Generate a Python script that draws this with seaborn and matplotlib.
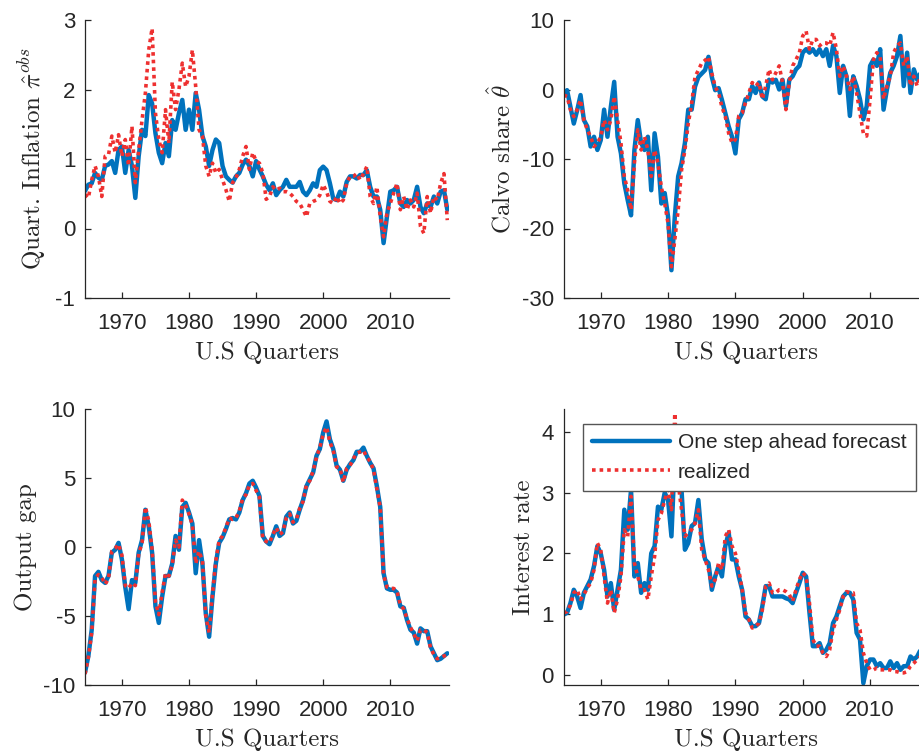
import numpy as np
import pandas as pd
import matplotlib
matplotlib.use("Agg")
import matplotlib.pyplot as plt
import seaborn as sns

# ---------------- data (semi-annual readings, 1964.5 ... 2018.5) ----------------
quarters = np.arange(1964.5, 2018.51, 0.5)

infl_forecast = [
    0.54, 0.63, 0.65, 0.80, 0.73, 0.70, 0.90, 0.92, 0.97, 0.80,
    1.13, 1.18, 0.80, 1.13, 0.90, 0.44, 1.04, 1.42, 1.33, 1.92,
    1.80, 1.37, 1.09, 0.94, 1.23, 1.04, 1.56, 1.42, 1.66, 1.85,
    1.42, 1.71, 1.42, 1.95, 1.71, 1.33, 1.18, 0.90, 1.13, 1.28,
    1.23, 0.90, 0.75, 0.70, 0.66, 0.75, 0.80, 0.92, 0.99, 0.90,
    0.75, 0.97, 0.85, 0.75, 0.63, 0.55, 0.65, 0.48, 0.55, 0.60,
    0.70, 0.60, 0.60, 0.60, 0.67, 0.53, 0.48, 0.55, 0.65, 0.60,
    0.84, 0.89, 0.84, 0.65, 0.43, 0.41, 0.53, 0.46, 0.67, 0.75,
    0.75, 0.72, 0.77, 0.77, 0.84, 0.60, 0.46, 0.46, 0.27, -0.21,
    0.17, 0.53, 0.55, 0.60, 0.36, 0.31, 0.41, 0.36, 0.41, 0.60,
    0.31, 0.22, 0.36, 0.31, 0.46, 0.36, 0.53, 0.55, 0.27]
infl_realized = [
    0.49, 0.44, 0.70, 0.90, 0.75, 0.46, 1.04, 1.06, 1.33, 1.09,
    1.35, 1.04, 1.28, 0.90, 1.47, 0.66, 1.13, 1.56, 1.95, 2.57,
    2.88, 1.66, 1.28, 1.09, 1.71, 1.23, 2.11, 1.71, 2.00, 2.38,
    2.04, 2.19, 2.57, 2.04, 1.42, 1.33, 0.90, 0.75, 0.94, 0.80,
    0.85, 0.70, 0.56, 0.39, 0.66, 0.73, 0.85, 1.04, 1.18, 0.85,
    1.09, 0.97, 0.94, 0.80, 0.42, 0.46, 0.60, 0.55, 0.58, 0.53,
    0.53, 0.51, 0.46, 0.39, 0.36, 0.27, 0.17, 0.36, 0.39, 0.41,
    0.48, 0.63, 0.53, 0.39, 0.36, 0.46, 0.36, 0.41, 0.65, 0.75,
    0.75, 0.79, 0.70, 0.79, 0.89, 0.46, 0.36, 0.60, 0.17, -0.12,
    0.22, 0.36, 0.51, 0.65, 0.27, 0.46, 0.27, 0.41, 0.31, 0.51,
    0.03, -0.07, 0.46, 0.22, 0.46, 0.41, 0.65, 0.79, 0.12]

calvo_forecast = [
    -0.55, -0.1, -2.5, -4.9, -3.0, -0.8, -4.4, -5.3, -8.2, -6.8,
    -8.7, -7.3, -2.9, -6.8, -2.5, 1.1, -6.8, -9.2, -13.5, -15.9,
    -18.1, -8.7, -4.4, -7.7, -8.7, -6.8, -14.5, -6.3, -9.7, -16.4,
    -14.9, -18.3, -26.0, -18.3, -12.5, -10.6, -7.7, -2.9, -2.9, 0.4,
    1.8, 2.3, 2.8, 4.7, 1.8, -0.1, 0.2, -1.5, -3.4, -5.3,
    -6.8, -9.2, -4.3, -3.4, -1.4, -1.4, 0.5, -0.5, 1.0, -1.0,
    -1.4, 1.4, 1.0, 1.4, 0.0, 1.4, -2.4, 1.4, 1.9, 2.9,
    3.4, 5.3, 5.8, 5.3, 5.8, 5.0, 5.8, 4.8, 5.8, 3.4,
    6.3, 4.8, -0.5, 3.4, 1.9, -3.8, 1.9, 0.5, -1.4, -4.3,
    -2.4, 3.4, 4.3, 3.4, 5.8, -2.9, 0.0, 2.4, 3.4, 4.8,
    7.7, 0.5, 5.3, -0.5, 2.9, 1.4, 2.4, 1.9, 1.0]
calvo_realized = [
    -0.8, -1.0, -2.9, -3.9, -2.9, -1.5, -4.4, -5.8, -6.8, -8.2,
    -7.7, -6.8, -4.4, -5.8, -4.4, -1.0, -4.4, -7.7, -12.5, -14.5,
    -17.3, -10.6, -5.8, -8.7, -6.8, -8.7, -12.5, -8.7, -10.6, -14.0,
    -16.4, -19.3, -25.5, -21.6, -17.3, -11.6, -8.7, -4.9, -2.0, 1.8,
    2.8, 3.8, 4.2, 4.7, 2.3, 0.4, -0.5, -2.5, -3.9, -6.3,
    -7.7, -7.2, -3.8, -3.4, -1.9, -0.5, 1.0, 0.5, 1.0, -1.4,
    0.5, 2.9, 1.4, 2.4, 3.4, 1.0, -2.9, 1.0, 3.4, 4.3,
    5.3, 7.7, 8.4, 5.8, 7.2, 7.2, 6.3, 6.7, 6.7, 6.3,
    8.2, 5.8, 1.9, 3.4, 1.9, 0.0, 1.9, -0.5, -3.4, -6.3,
    -6.7, -1.4, 4.3, 5.3, 4.8, -1.4, 0.5, 1.9, 5.3, 6.3,
    6.7, 3.4, 4.8, 0.5, 1.9, 0.5, 1.9, 1.0, 1.4]

gap_forecast = [
    -9.1, -7.9, -6.0, -2.1, -1.8, -2.4, -2.6, -2.1, -0.4, -0.2,
    0.3, -0.9, -2.9, -4.5, -2.4, -2.6, -0.4, 0.5, 2.7, 1.5,
    -0.4, -4.3, -5.5, -3.6, -2.1, -2.1, -1.2, 0.8, -0.2, 2.9,
    3.2, 2.5, 1.7, -1.9, 0.5, -1.2, -4.8, -6.5, -3.6, -1.2,
    0.3, 0.7, 1.3, 2.0, 2.1, 2.0, 2.5, 3.4, 3.9, 4.6,
    4.8, 4.3, 3.7, 0.8, 0.4, 0.2, 0.8, 1.5, 0.8, 1.0,
    2.2, 2.5, 1.7, 1.9, 2.7, 3.4, 4.4, 4.9, 5.4, 6.6,
    7.1, 8.3, 9.1, 7.8, 7.1, 5.9, 5.6, 4.8, 5.6, 6.0,
    6.3, 6.9, 6.9, 7.2, 6.6, 6.1, 5.7, 4.4, 2.9, -1.9,
    -3.0, -3.1, -3.1, -3.3, -4.3, -4.4, -5.3, -6.0, -6.2, -7.0,
    -5.9, -6.1, -6.1, -7.2, -7.7, -8.2, -8.1, -7.9, -7.7]
gap_realized = [
    -9.2, -8.0, -6.2, -2.3, -2.0, -2.2, -2.7, -2.3, -0.3, -0.1,
    0.2, -0.6, -2.8, -3.0, -2.6, -2.8, -0.5, 0.3, 2.9, 1.9,
    -0.2, -4.0, -4.9, -3.3, -1.9, -2.1, -1.3, 0.5, 0.0, 3.4,
    3.0, 2.4, 1.6, -1.2, -0.3, -1.0, -5.0, -6.2, -3.4, -1.0,
    0.5, 0.8, 1.4, 2.1, 2.0, 2.1, 2.6, 3.5, 3.8, 4.5,
    4.6, 4.1, 3.6, 0.6, 0.4, 0.3, 0.9, 1.4, 0.9, 1.1,
    2.1, 2.4, 1.8, 2.0, 2.8, 3.3, 4.5, 4.8, 5.5, 6.5,
    7.2, 8.2, 8.7, 7.6, 7.0, 5.8, 5.7, 4.7, 5.7, 5.9,
    6.4, 6.8, 6.9, 7.0, 6.5, 6.2, 5.6, 4.2, 2.9, -2.0,
    -2.9, -3.0, -3.0, -3.2, -4.2, -4.5, -5.2, -5.8, -6.3, -6.8,
    -6.0, -6.0, -6.2, -7.3, -7.8, -8.1, -8.0, -7.9, -7.8]

rate_forecast = [
    0.99, 1.02, 1.18, 1.40, 1.29, 1.10, 1.35, 1.46, 1.57, 1.79,
    2.12, 2.00, 1.73, 1.29, 1.51, 1.07, 1.40, 1.73, 2.72, 2.39,
    3.05, 1.62, 1.84, 1.35, 1.51, 1.40, 2.00, 2.12, 2.77, 2.72,
    3.00, 2.88, 2.28, 3.60, 3.27, 3.05, 2.06, 2.17, 2.45, 2.50,
    2.88, 2.23, 1.90, 1.84, 1.40, 1.62, 1.79, 1.62, 2.12, 2.34,
    1.90, 1.90, 1.62, 1.40, 0.96, 0.91, 0.80, 0.80, 0.85, 1.13,
    1.46, 1.46, 1.29, 1.29, 1.29, 1.29, 1.26, 1.24, 1.18, 1.35,
    1.51, 1.68, 1.62, 1.02, 0.47, 0.47, 0.52, 0.36, 0.41, 0.52,
    0.85, 0.96, 1.13, 1.29, 1.35, 1.35, 1.24, 0.69, 0.58, -0.14,
    0.14, 0.25, 0.25, 0.14, 0.19, 0.11, 0.11, 0.22, 0.11, 0.19,
    0.08, 0.14, 0.14, 0.30, 0.25, 0.30, 0.41, 0.52, 0.63]
rate_realized = [
    1.02, 1.04, 1.15, 1.35, 1.40, 1.24, 1.32, 1.43, 1.51, 1.73,
    2.17, 2.06, 1.62, 1.18, 1.40, 1.02, 1.24, 1.62, 2.39, 2.28,
    2.94, 1.84, 1.62, 1.40, 1.40, 1.24, 1.62, 1.95, 2.55, 2.66,
    2.88, 3.05, 2.72, 4.31, 3.16, 2.72, 2.28, 2.34, 2.39, 2.50,
    2.72, 2.06, 1.90, 1.73, 1.46, 1.57, 1.84, 1.73, 2.28, 2.39,
    2.12, 2.00, 1.73, 1.40, 1.02, 0.91, 0.77, 0.80, 0.85, 1.07,
    1.46, 1.51, 1.35, 1.35, 1.40, 1.40, 1.37, 1.32, 1.21, 1.40,
    1.57, 1.68, 1.62, 1.18, 0.58, 0.47, 0.47, 0.36, 0.30, 0.41,
    0.74, 0.91, 1.07, 1.29, 1.37, 1.35, 1.35, 0.85, 0.74, 0.36,
    0.19, 0.08, 0.08, 0.11, 0.08, 0.08, 0.08, 0.08, 0.05, 0.05,
    0.03, 0.03, 0.05, 0.14, 0.19, 0.25, 0.30, 0.41, 0.52]

year_ticks = [1970, 1980, 1990, 2000, 2010]
series_names = ["One step ahead forecast", "realized"]
xlabel_text = "U.S Quarters"

# ---------------- style ----------------
sns.set_style("ticks")
plt.rcParams["font.family"] = ["Liberation Sans", "DejaVu Sans"]
plt.rcParams["mathtext.fontset"] = "cm"
plt.rcParams["axes.unicode_minus"] = False

BLUE = "#0072BD"
RED = "#EE3030"
DARK = "#262626"

fig = plt.figure(figsize=(9.2, 7.51), dpi=100)
W, H = 920.0, 751.0

def axpos(x0, x1, ytop, ybot):
    return [x0 / W, 1 - ybot / H, (x1 - x0) / W, (ybot - ytop) / H]

panels = [
    dict(pos=axpos(85, 449, 20, 298), fc=infl_forecast, re=infl_realized,
         ylim=(-1, 3), yticks=[-1, 0, 1, 2, 3],
         ylabel=r"Quart. Inflation $\hat{\pi}^{obs}$", legend=False),
    dict(pos=axpos(563.7, 929, 20, 298), fc=calvo_forecast, re=calvo_realized,
         ylim=(-30, 10), yticks=[-30, -20, -10, 0, 10],
         ylabel=r"Calvo share $\hat{\theta}$", legend=False),
    dict(pos=axpos(85, 449, 409, 685), fc=gap_forecast, re=gap_realized,
         ylim=(-10, 10), yticks=[-10, -5, 0, 5, 10],
         ylabel="Output gap", legend=False),
    dict(pos=axpos(563.7, 929, 409, 685), fc=rate_forecast, re=rate_realized,
         ylim=(-0.17, 4.38), yticks=[0, 1, 2, 3, 4],
         ylabel="Interest rate", legend=True),
]

for p in panels:
    ax = fig.add_axes(p["pos"])
    df = pd.DataFrame({"q": quarters, "fc": p["fc"], "re": p["re"]})
    sns.lineplot(data=df, x="q", y="fc", ax=ax, color=BLUE, lw=3.2,
                 estimator=None, sort=False, label=series_names[0])
    sns.lineplot(data=df, x="q", y="re", ax=ax, color=RED, lw=2.6,
                 linestyle=(0, (1, 1.1)), estimator=None, sort=False,
                 label=series_names[1])
    ax.set_xlim(1964.5, 2018.75)
    ax.set_ylim(*p["ylim"])
    ax.set_xticks(year_ticks)
    ax.set_yticks(p["yticks"])
    for s in ["top", "right"]:
        ax.spines[s].set_visible(False)
    for s in ["left", "bottom"]:
        ax.spines[s].set_color(DARK)
        ax.spines[s].set_linewidth(0.9)
    ax.tick_params(direction="in", length=4, width=0.9, color=DARK,
                   labelcolor=DARK, labelsize=16)
    ax.tick_params(axis="x", pad=10.5)
    ax.tick_params(axis="y", pad=7)
    ax.set_xlabel(xlabel_text, fontfamily="cmr10", fontsize=18, color=DARK,
                  labelpad=5.5)
    ax.set_ylabel(p["ylabel"], fontfamily="cmr10", fontsize=18, color=DARK,
                  labelpad=4.5)
    if p["legend"]:
        leg = ax.legend(loc="upper left", bbox_to_anchor=(0.053, 0.946),
                        fontsize=15, frameon=True, fancybox=False,
                        framealpha=1.0, handlelength=3.7, borderpad=0.45,
                        labelspacing=0.5, handletextpad=0.4, borderaxespad=0)
        leg.get_frame().set_edgecolor("#555555")
        leg.get_frame().set_linewidth(1.0)
        leg.get_frame().set_facecolor("white")
        leg.set_zorder(10)
        for t in leg.get_texts():
            t.set_color(DARK)
    else:
        ax.get_legend().remove()

fig.savefig("out.png", dpi=100)
